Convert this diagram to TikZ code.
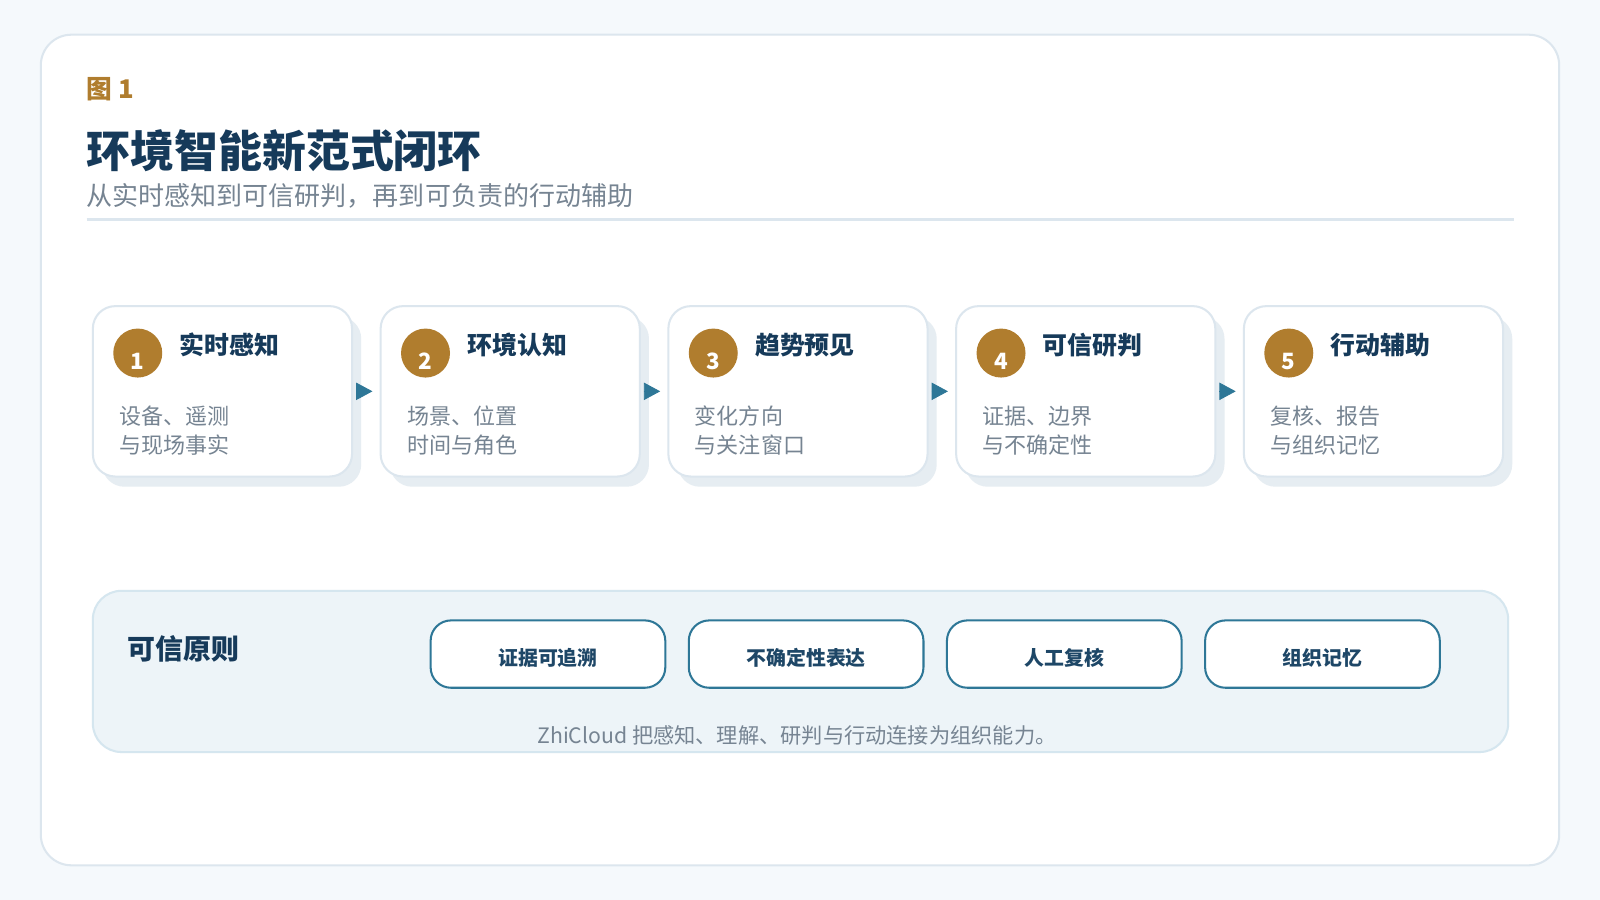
\documentclass[tikz,border=0pt]{standalone}
\usepackage{fontspec}
\setmainfont{Noto Sans CJK SC}
\usetikzlibrary{calc,arrows.meta,shadows}
\definecolor{bgc}{HTML}{F5F9FC}
\definecolor{framec}{HTML}{DCE6EE}
\definecolor{gold}{HTML}{B07D2E}
\definecolor{navy}{HTML}{163A5A}
\definecolor{grayt}{HTML}{768492}
\definecolor{teal}{HTML}{2E7797}
\definecolor{panelf}{HTML}{EDF4F8}
\definecolor{paneld}{HTML}{D5E6EF}
\definecolor{shadowc}{HTML}{E6EDF2}
\definecolor{pilltxt}{HTML}{1E4767}
\begin{document}
\begin{tikzpicture}[x=0.5pt,y=-0.5pt,
  txt/.style={inner sep=0pt,outer sep=0pt},
  outercard/.style={draw=framec,line width=1pt,fill=white,rounded corners=15pt,minimum width=744pt,minimum height=407pt,inner sep=0pt},
  card/.style={draw=framec,line width=1pt,fill=white,rounded corners=11pt,minimum width=127pt,minimum height=83.5pt,inner sep=0pt,
    drop shadow={shadow xshift=4.5pt,shadow yshift=-5pt,fill=shadowc,opacity=1}},
  numc/.style={circle,fill=gold,minimum size=24pt,inner sep=0pt},
  numtxt/.style={txt,anchor=base,text=white,font=\fontsize{11}{13}\selectfont\bfseries},
  head/.style={txt,anchor=base west,text=navy,font=\fontsize{12.2}{14}\selectfont\bfseries},
  desc/.style={txt,anchor=base west,text=grayt,font=\fontsize{10.8}{13}\selectfont},
  flow/.style={draw=teal,line width=0.4pt,-{Triangle[length=8pt,width=8.5pt]},shorten <=1.5pt,shorten >=3.5pt},
  panel/.style={draw=paneld,line width=1pt,fill=panelf,rounded corners=14pt,minimum width=693.5pt,minimum height=79pt,inner sep=0pt},
  pill/.style={draw=teal,line width=1pt,fill=white,rounded corners=10pt,minimum width=115pt,minimum height=33pt,inner sep=0pt},
  pilltext/.style={txt,anchor=base,text=pilltxt,font=\fontsize{9.75}{12}\selectfont\bfseries}
]
\useasboundingbox (0,0) rectangle (1568,882);
\fill[bgc] (0,0) rectangle (1568,882);
\node[outercard] (frame) at (784,441) {};

\node[txt,anchor=base west,text=gold,font=\fontsize{12.6}{15}\selectfont\bfseries] (fig) at (85,97) {图 1};
\node[txt,anchor=base west,text=navy,font=\fontsize{21.5}{26}\selectfont\bfseries] (title) at (85,164) {环境智能新范式闭环};
\node[txt,anchor=base west,text=grayt,font=\fontsize{12.75}{16}\selectfont] (sub) at (85,201) {从实时感知到可信研判，再到可负责的行动辅助};
\coordinate (ruleA) at (85,215);
\coordinate (ruleB) at (1484,215);
\draw[framec,line width=1.5pt] (ruleA) -- (ruleB);

\foreach \i/\x/\head/\la/\lb in {1/218/实时感知/设备、遥测/与现场事实,2/500/环境认知/场景、位置/时间与角色,3/782/趋势预见/变化方向/与关注窗口,4/1064/可信研判/证据、边界/与不确定性,5/1346/行动辅助/复核、报告/与组织记忆}{
  \node[card] (c\i) at (\x,383.5) {};
  \node[numc] (n\i) at ($(c\i.north west)+(45,47)$) {};
  \node[numtxt] (t\i) at ($(n\i.center)+(0,16)$) {\i};
  \node[head] (h\i) at ($(c\i.north west)+(86,48)$) {\head};
  \node[desc] (da\i) at ($(c\i.north west)+(27,117)$) {\la};
  \node[desc] (db\i) at ($(c\i.north west)+(27,145)$) {\lb};
}
\foreach \i/\j in {1/2,2/3,3/4,4/5}{
  \draw[flow] (c\i.east) -- (c\j.west);
}

\node[panel] (panel) at (784.5,658) {};
\node[txt,anchor=base west,text=navy,font=\fontsize{13.7}{16}\selectfont\bfseries] (ptitle) at (125,646) {可信原则};
\foreach \i/\x/\t in {1/537/证据可追溯,2/790/不确定性表达,3/1043/人工复核,4/1296/组织记忆}{
  \node[pill] (p\i) at (\x,641) {};
  \node[pilltext] (pt\i) at ($(p\i.center)+(0,11)$) {\t};
}
\node[txt,anchor=base,text=grayt,font=\fontsize{10.4}{12}\selectfont] (foot) at (781,729) {ZhiCloud 把感知、理解、研判与行动连接为组织能力。};
\end{tikzpicture}
\end{document}
